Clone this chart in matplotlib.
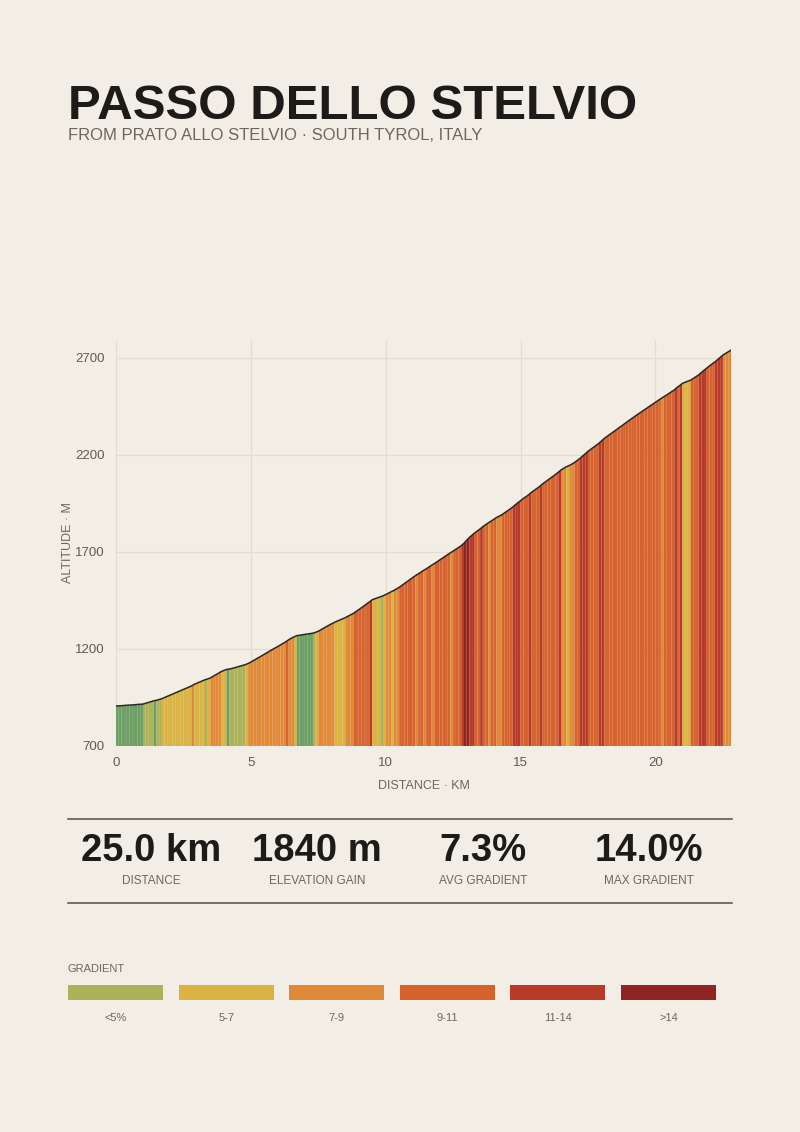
import numpy as np
import matplotlib
matplotlib.use("Agg")
import matplotlib.pyplot as plt
from matplotlib.collections import PolyCollection
from matplotlib.patches import Rectangle

plt.rcParams["font.family"] = ["Liberation Sans", "DejaVu Sans"]

BG = "#f2eee6"
INK = "#1d1b17"
MUTED = "#6b675d"
GRID = "#e2ddcf"

# ---- data: gradient (%) of each 100 m segment ----
start_alt = 906
seg_km = 0.1
grade_pct = [
    0.5, 1, 1.5, 1, 0.5, 1, 1.5, 1, 1, 1,                # km 0
    4, 4.5, 4, 4.5, 2.5, 4, 4.5, 6, 6.5, 6,              # km 1
    6, 5.5, 6, 6.5, 5.5, 6, 6, 5.5, 8, 6,                # km 2
    6, 6, 6, 4, 5.5, 8, 8, 8.5, 8, 6,                    # km 3
    5, 2, 3, 4, 4, 3.5, 4, 4.5, 6, 7,                    # km 4
    8, 8.5, 8, 7.5, 8.5, 8, 8.5, 8, 7.5, 8,              # km 5
    8, 8.5, 8, 10, 8, 7, 6, 2.5, 2, 2,                   # km 6
    2, 2, 2.5, 4.5, 5.5, 8, 8, 7.5, 8, 7.5,              # km 7
    7, 6, 6, 5.5, 6.5, 7.5, 7.5, 7, 9.5, 9.5,            # km 8
    10, 10.5, 10, 10, 11, 5, 5.5, 5, 4.5, 6.5,           # km 9
    7, 7.5, 6.5, 8, 8.5, 10, 10, 10, 10.5, 10,           # km 10
    9.5, 8.5, 9.5, 9, 8, 9.5, 9, 8.5, 9.5, 9,            # km 11
    9.5, 9.5, 9, 9, 8.5, 10, 9.5, 9, 12.5, 15.5,         # km 12
    14.5, 12, 11.5, 10, 10.5, 11.5, 10, 9, 8.5, 9.5,     # km 13
    9.5, 7, 7.5, 9.5, 10, 9.5, 10, 12.5, 11, 11,         # km 14
    10.5, 9.5, 10, 12.5, 10, 9.5, 10, 12.5, 10, 10,      # km 15
    10, 10.5, 10.5, 10.5, 12, 8.5, 8, 6, 7.5, 8.5,       # km 16
    10, 10.5, 12.5, 12.5, 12, 10, 10.5, 10, 10.5, 12.5,  # km 17
    12.5, 10, 10.5, 9.5, 10.5, 10, 10, 10, 10.5, 10,     # km 18
    10, 9.5, 10, 9.5, 9, 10, 9.5, 9.5, 10, 9.5,          # km 19
    9, 9, 8.5, 9, 9.5, 9, 9, 12.5, 10, 11,               # km 20
    6, 5, 5.5, 9, 9, 9, 12.5, 11.5, 12, 10.5,            # km 21
    10, 10, 12, 12.5, 11.5, 8.5, 8.5, 8.5,               # km 22
]

grade_bins = [3, 5, 7, 9, 11, 14]
chart_colors = ["#6a9e62", "#abb257", "#dab343", "#e08a38", "#d6622d", "#b83a28", "#8f2422"]
legend_labels = ["<5%", "5-7", "7-9", "9-11", "11-14", ">14"]
legend_colors = chart_colors[1:]

stat_values = ["25.0 km", "1840 m", "7.3%", "14.0%"]
stat_labels = ["DISTANCE", "ELEVATION GAIN", "AVG GRADIENT", "MAX GRADIENT"]

x_ticks = [0, 5, 10, 15, 20]
y_ticks = [700, 1200, 1700, 2200, 2700]

# ---- derived profile ----
g = np.array(grade_pct, dtype=float)
dist = np.arange(len(g) + 1) * seg_km
alt = start_alt + np.concatenate([[0], np.cumsum(g * seg_km * 10)])
cls = np.digitize(g, grade_bins)
base = y_ticks[0]

fig = plt.figure(figsize=(8, 11.32), dpi=100, facecolor=BG)

fig.text(0.085, 0.895, "PASSO DELLO STELVIO", fontsize=35.5, fontweight="bold",
         color=INK, ha="left", va="baseline")
fig.text(0.085, 0.876, "FROM PRATO ALLO STELVIO · SOUTH TYROL, ITALY", fontsize=12,
         color=MUTED, ha="left", va="baseline")

ax = fig.add_axes([0.145, 0.341, 0.76875, 0.3587])
ax.set_facecolor(BG)
polys = [[(dist[i], base), (dist[i], alt[i]), (dist[i + 1], alt[i + 1]), (dist[i + 1], base)]
         for i in range(len(g))]
pc = PolyCollection(polys, facecolors=[chart_colors[c] for c in cls], edgecolors="none",
                    linewidths=0, zorder=2)
ax.add_collection(pc)
ax.plot(dist, alt, color="#2b2823", lw=1.1, zorder=3)

ax.set_xlim(0, dist[-1])
ax.set_ylim(base, 2793)
ax.set_xticks(x_ticks)
ax.set_yticks(y_ticks)
ax.grid(True, color=GRID, lw=0.9, zorder=0)
ax.set_axisbelow(True)
for s in ax.spines.values():
    s.set_visible(False)
ax.tick_params(length=0, labelsize=9.5, colors="#5f5b52", pad=8)
ax.set_xlabel("DISTANCE · KM", fontsize=9, color=MUTED, labelpad=8)
ax.set_ylabel("ALTITUDE · M", fontsize=9, color=MUTED, labelpad=1)

# ---- stats band ----
for yy in (1 - 819 / 1132, 1 - 903 / 1132):
    fig.add_artist(plt.Line2D([0.085, 0.915], [yy, yy], color="#5f5b52", lw=1.2))
col_w = (0.915 - 0.085) / 4
for i, (v, lab) in enumerate(zip(stat_values, stat_labels)):
    cx = 0.085 + col_w * (i + 0.5)
    fig.text(cx, 1 - 861 / 1132, v, fontsize=27.5, fontweight="bold", color=INK,
             ha="center", va="baseline")
    fig.text(cx, 1 - 884 / 1132, lab, fontsize=8.5, color=MUTED, ha="center", va="baseline")

# ---- legend ----
fig.text(0.085, 1 - 972 / 1132, "GRADIENT", fontsize=8, color=MUTED, ha="left", va="baseline")
lw_px, step_px = 95, 110.6
for i, (c, lab) in enumerate(zip(legend_colors, legend_labels)):
    x0 = (68 + i * step_px) / 800
    fig.add_artist(Rectangle((x0, 1 - 1000 / 1132), lw_px / 800, 15 / 1132,
                             transform=fig.transFigure, facecolor=c, edgecolor="none"))
    fig.text(x0 + lw_px / 1600, 1 - 1021 / 1132, lab, fontsize=8, color=MUTED,
             ha="center", va="baseline")

fig.savefig("out.png", dpi=100, facecolor=BG)
